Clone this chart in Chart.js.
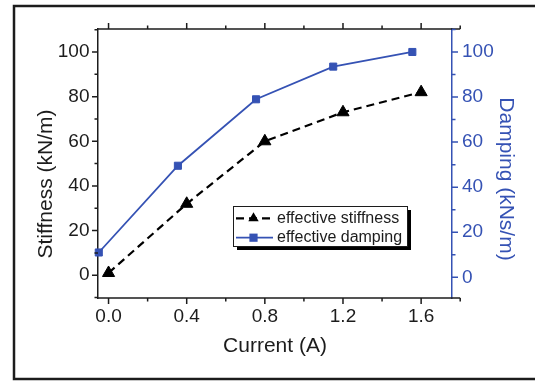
<!DOCTYPE html>
<html>
<head>
<meta charset="utf-8">
<script src="https://cdn.jsdelivr.net/npm/chart.js@4.4.1/dist/chart.umd.min.js"></script>
<style>
  html, body { margin: 0; padding: 0; background: #fff; }
  canvas { display: block; }
</style>
</head>
<body>
<canvas id="myChart" width="535" height="381"></canvas>
<script>
// current (A) vs. effective stiffness (kN/m) and damping (kNs/m)
const currentStiff = [0.0, 0.4, 0.8, 1.2, 1.6];
const stiffness = [1, 32, 60, 73, 82];
const currentDamp = [-0.05, 0.355, 0.755, 1.15, 1.555];
const damping = [11, 49.5, 79, 93.5, 100];

// labelled (major) ticks
const xLabels = [0.0, 0.4, 0.8, 1.2, 1.6];
const leftLabels = [0, 20, 40, 60, 80, 100];
const rightLabels = [0, 20, 40, 60, 80, 100];
const seriesNames = ['effective stiffness', 'effective damping'];
const axisTitles = ['Current (A)', 'Stiffness (kN/m)', 'Damping (kNs/m)'];
const xAxisEnd = 1.8;

const FONT = "'Liberation Sans', Arial, Helvetica, sans-serif";
const BLUE = '#3552b4';
const INK = '#1c1c1c';

function isMajor(list, v) {
    return list.some(t => Math.abs(t - v) < 1e-6);
}

function marker(ctx, style, x, y, r, color) {
    ctx.fillStyle = color;
    ctx.beginPath();
    if (style === 'triangle') {
        ctx.moveTo(x, y - r);
        ctx.lineTo(x + r * 0.866, y + r / 2);
        ctx.lineTo(x - r * 0.866, y + r / 2);
    } else {
        const h = r * 0.707;
        ctx.rect(x - h, y - h, 2 * h, 2 * h);
    }
    ctx.closePath();
    ctx.fill();
}

// white page, outer frame, axis lines with outward ticks, rotated y titles
const frameAndTicks = {
    id: 'frameAndTicks',
    beforeDraw(chart) {
        const ctx = chart.ctx;
        ctx.save();
        ctx.fillStyle = '#fff';
        ctx.fillRect(0, 0, chart.width, chart.height);
        ctx.strokeStyle = INK;
        ctx.lineWidth = 2.5;
        ctx.strokeRect(14, 6, chart.width + 10, 373);
        ctx.restore();
    },
    afterDraw(chart) {
        const { ctx, chartArea: a, scales } = chart;
        const x = scales.x, yl = scales.y, yr = scales.y1;
        const xEnd = x.getPixelForValue(xAxisEnd);
        ctx.save();
        ctx.lineWidth = 1.5;
        ctx.strokeStyle = INK;
        // top and bottom axis lines
        ctx.beginPath();
        ctx.moveTo(a.left, a.top); ctx.lineTo(xEnd, a.top);
        ctx.moveTo(a.left, a.bottom); ctx.lineTo(xEnd, a.bottom);
        ctx.stroke();

        const xVals = x.ticks.map(t => t.value).concat([xAxisEnd]);
        ctx.beginPath();
        xVals.forEach(v => {
            const px = x.getPixelForValue(v);
            const len = isMajor(xLabels, v) ? 6 : 3.5;
            ctx.moveTo(px, a.bottom); ctx.lineTo(px, a.bottom + len);
            ctx.moveTo(px, a.top); ctx.lineTo(px, a.top - len);
        });
        yl.ticks.forEach(t => {
            const py = yl.getPixelForValue(t.value);
            const len = isMajor(leftLabels, t.value) ? 6 : 3.5;
            ctx.moveTo(a.left, py); ctx.lineTo(a.left - len, py);
        });
        ctx.stroke();

        ctx.strokeStyle = BLUE;
        ctx.beginPath();
        yr.ticks.forEach(t => {
            const py = yr.getPixelForValue(t.value);
            const len = isMajor(rightLabels, t.value) ? 6 : 3.5;
            ctx.moveTo(a.right, py); ctx.lineTo(a.right + len, py);
        });
        ctx.stroke();

        ctx.font = `21px ${FONT}`;
        ctx.textAlign = 'center';
        ctx.textBaseline = 'middle';
        ctx.fillStyle = INK;
        ctx.translate(46, 184);
        ctx.rotate(-Math.PI / 2);
        ctx.fillText(axisTitles[1], 0, 0);
        ctx.setTransform(1, 0, 0, 1, 0, 0);
        ctx.fillStyle = BLUE;
        ctx.translate(506, 179);
        ctx.rotate(Math.PI / 2);
        ctx.fillText(axisTitles[2], 0, 0);
        ctx.restore();
    }
};

// boxed legend with drop shadow inside the plot
const boxLegend = {
    id: 'boxLegend',
    afterDraw(chart) {
        const ctx = chart.ctx;
        const bx = 233, by = 206, bw = 174, bh = 40;
        ctx.save();
        ctx.fillStyle = '#000';
        ctx.fillRect(bx + 4, by + 4, bw, bh);
        ctx.fillStyle = '#fff';
        ctx.fillRect(bx, by, bw, bh);
        ctx.strokeStyle = INK;
        ctx.lineWidth = 1;
        ctx.strokeRect(bx + 0.5, by + 0.5, bw, bh);
        chart.data.datasets.forEach((ds, i) => {
            const cy = by + 12.3 + i * 19.4;
            ctx.strokeStyle = ds.borderColor;
            ctx.lineWidth = ds.borderWidth;
            ctx.setLineDash(ds.borderDash || []);
            ctx.beginPath();
            ctx.moveTo(bx + 3, cy);
            ctx.lineTo(bx + 40, cy);
            ctx.stroke();
            ctx.setLineDash([]);
            marker(ctx, ds.pointStyle, bx + 20.5, cy, ds.pointStyle === 'triangle' ? 6 : 5.8, ds.backgroundColor);
            ctx.fillStyle = INK;
            ctx.font = `16px ${FONT}`;
            ctx.textAlign = 'left';
            ctx.textBaseline = 'middle';
            ctx.fillText(ds.label, bx + 44, cy);
        });
        ctx.restore();
    }
};

const tickFont = { family: FONT, size: 19 };

new Chart(document.getElementById('myChart'), {
    type: 'line',
    data: {
        datasets: [{
            label: seriesNames[0],
            data: currentStiff.map((c, i) => ({ x: c, y: stiffness[i] })),
            yAxisID: 'y',
            borderColor: '#000',
            backgroundColor: '#000',
            borderWidth: 2.2,
            borderDash: [8, 5],
            pointStyle: 'triangle',
            pointRadius: 7,
            pointBorderWidth: 1,
            tension: 0,
            clip: false
        }, {
            label: seriesNames[1],
            data: currentDamp.map((c, i) => ({ x: c, y: damping[i] })),
            yAxisID: 'y1',
            borderColor: BLUE,
            backgroundColor: BLUE,
            borderWidth: 1.8,
            pointStyle: 'rect',
            pointRadius: 5,
            pointBorderWidth: 1,
            tension: 0,
            clip: false
        }]
    },
    options: {
        responsive: false,
        animation: false,
        layout: { padding: { top: 29 } },
        plugins: {
            legend: { display: false },
            tooltip: { enabled: false }
        },
        scales: {
            x: {
                type: 'linear',
                min: -0.054,
                max: 1.758,
                grid: { display: false, drawTicks: false },
                border: { display: false },
                ticks: {
                    stepSize: 0.2,
                    includeBounds: false,
                    autoSkip: false,
                    maxRotation: 0,
                    padding: 7.5,
                    color: INK,
                    font: tickFont,
                    callback: v => isMajor(xLabels, v) ? v.toFixed(1) : ''
                },
                title: {
                    display: true,
                    text: axisTitles[0],
                    color: INK,
                    font: { family: FONT, size: 21 },
                    padding: { top: 0, bottom: 22 }
                },
                afterFit(s) { s.height = 83; }
            },
            y: {
                position: 'left',
                min: -10.2,
                max: 110.3,
                grid: { display: false, drawTicks: false },
                border: { display: true, color: INK, width: 1.5 },
                ticks: {
                    stepSize: 10,
                    includeBounds: false,
                    autoSkip: false,
                    padding: 8.5,
                    color: INK,
                    font: tickFont,
                    callback: v => isMajor(leftLabels, v) ? v : ''
                },
                afterFit(s) { s.width = 98; }
            },
            y1: {
                position: 'right',
                min: -9.2,
                max: 110.2,
                grid: { display: false, drawTicks: false },
                border: { display: true, color: BLUE, width: 1.5 },
                ticks: {
                    stepSize: 10,
                    includeBounds: false,
                    autoSkip: false,
                    padding: 10,
                    color: BLUE,
                    font: tickFont,
                    callback: v => isMajor(rightLabels, v) ? v : ''
                },
                afterFit(s) { s.width = 83; }
            }
        }
    },
    plugins: [frameAndTicks, boxLegend]
});
</script>
</body>
</html>
